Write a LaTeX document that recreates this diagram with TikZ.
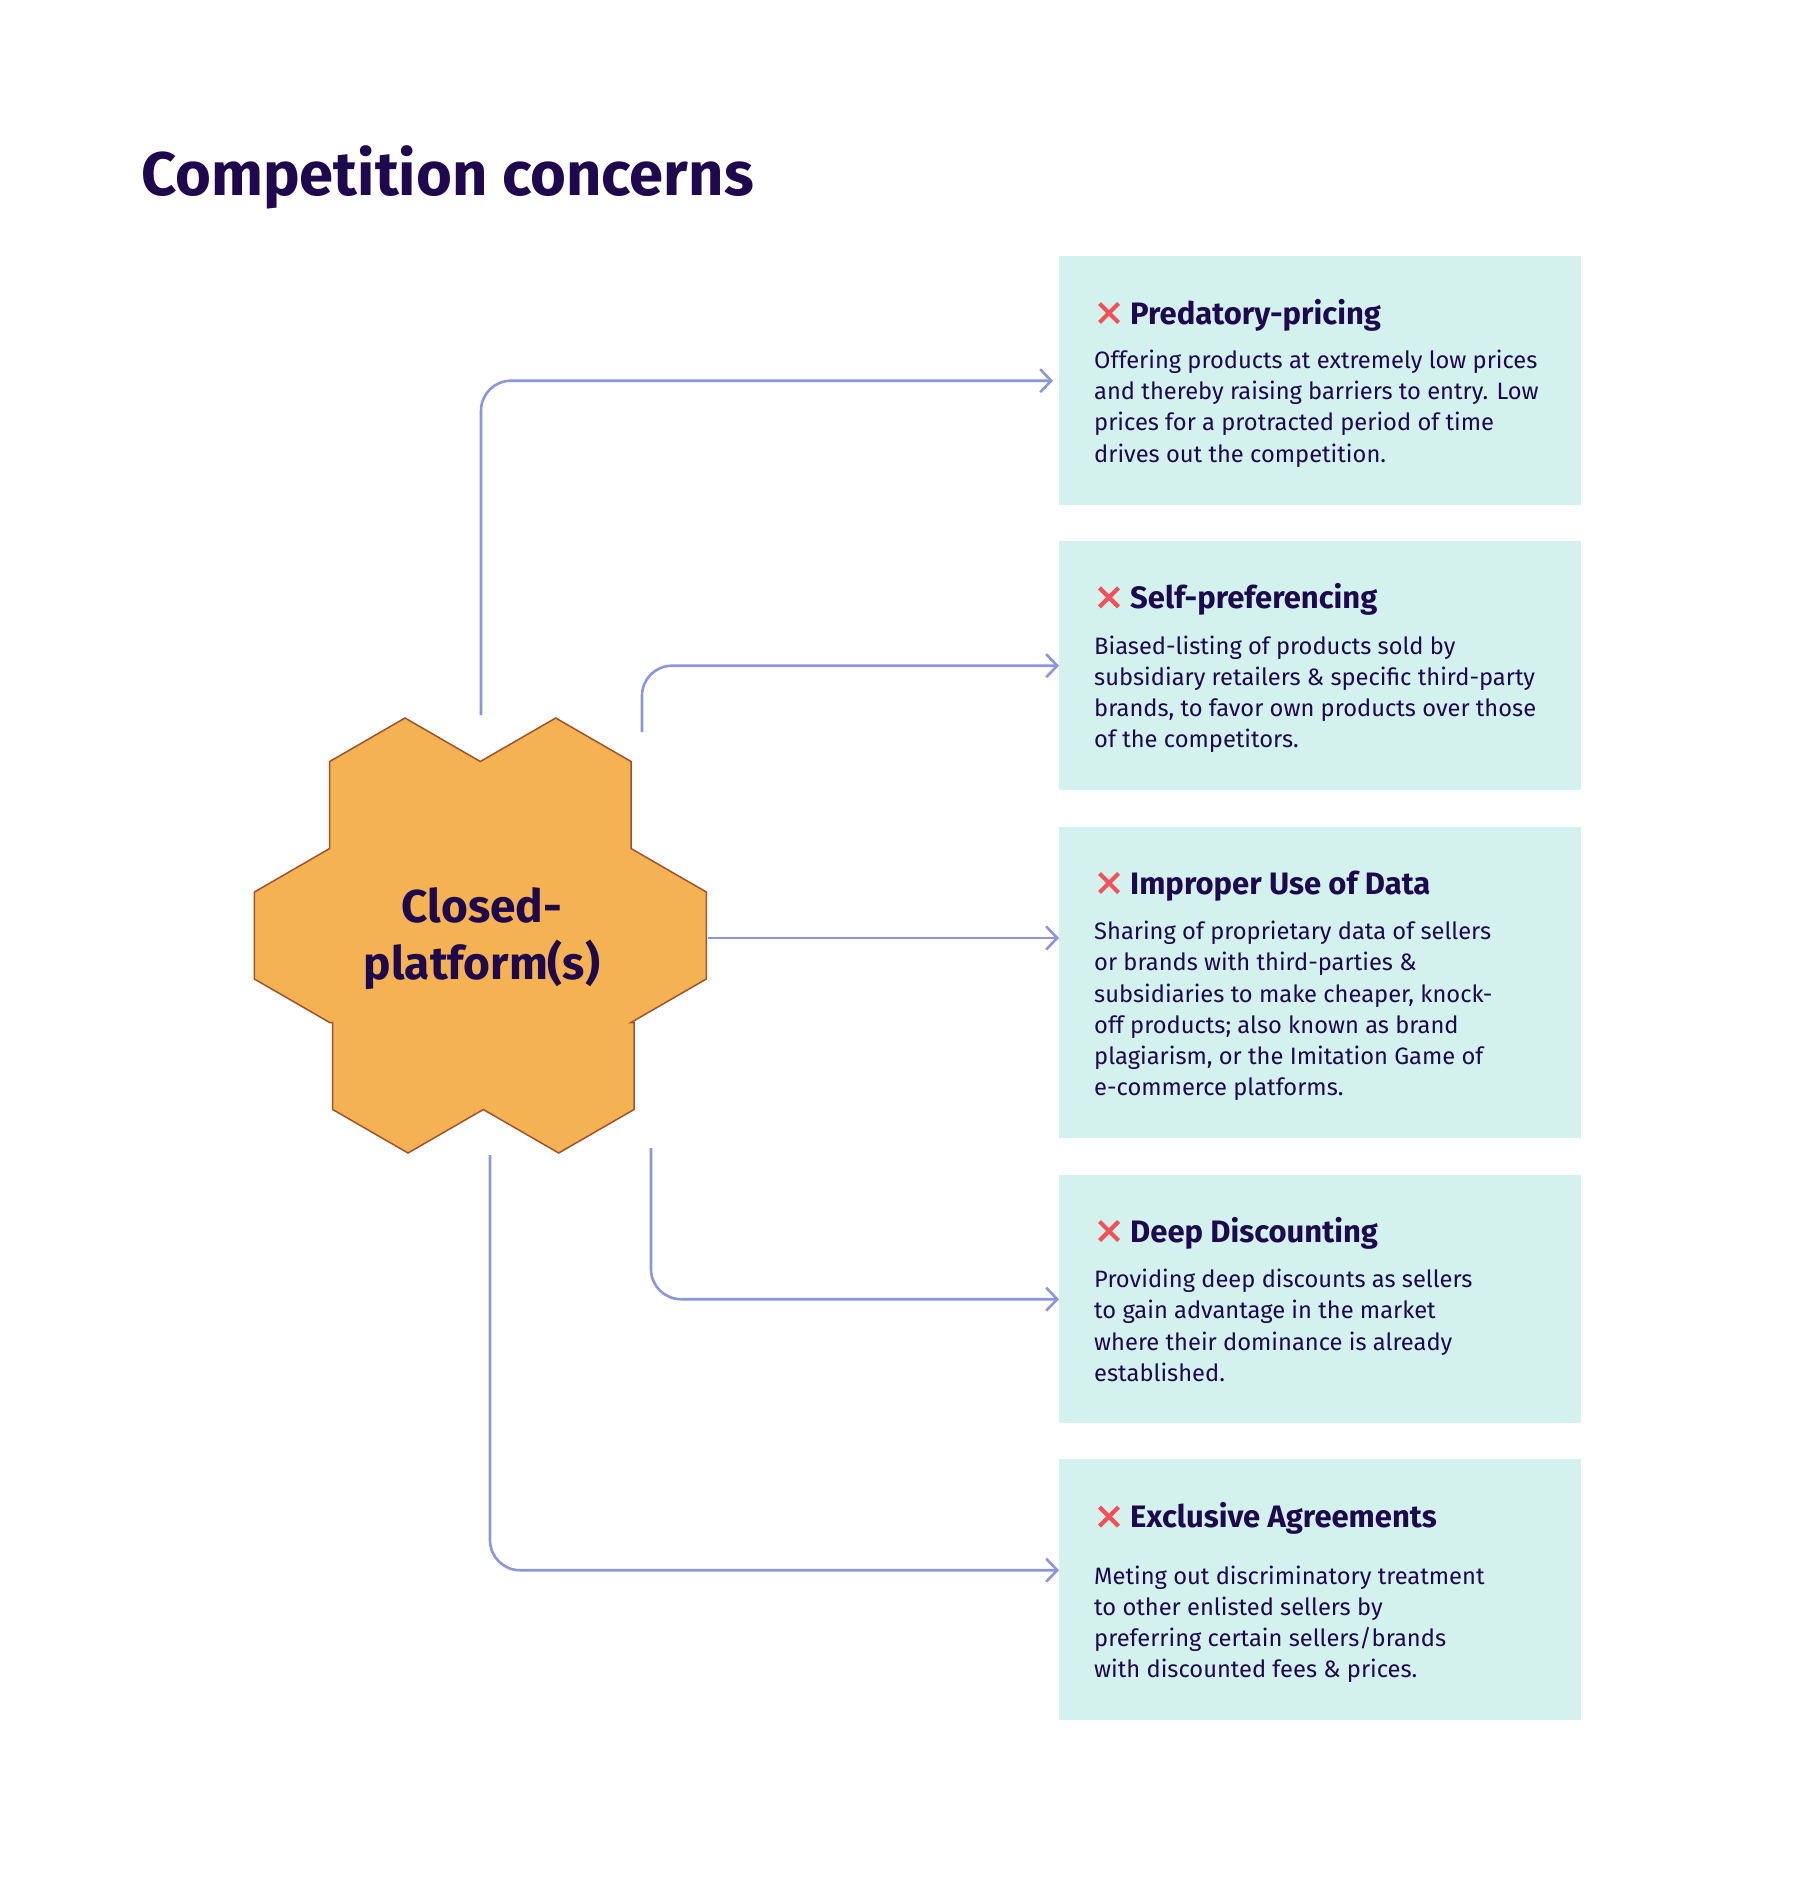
\documentclass[tikz,border=0pt]{standalone}
\usepackage{fontspec}
\setmainfont{Fira Sans}
\usetikzlibrary{arrows.meta}
\definecolor{ink}{RGB}{30,8,78}
\definecolor{mint}{RGB}{211,241,237}
\definecolor{connclr}{RGB}{139,150,219}
\definecolor{crossred}{RGB}{244,80,88}
\definecolor{hexfill}{RGB}{245,178,82}
\definecolor{hexline}{RGB}{160,82,45}
\begin{document}
\begin{tikzpicture}[x=1pt,y=-1pt,
  cardbox/.style={rectangle, fill=mint, draw=none, minimum width=522pt, anchor=north west, inner sep=0pt},
  cardhead/.style={anchor=base west, inner sep=0pt, text=ink, font=\fontsize{31}{36}\selectfont\bfseries},
  cardbody/.style={anchor=base west, inner sep=0pt, text=ink, align=left, font=\fontsize{23.7}{31.2}\selectfont},
  arrowline/.style={draw=connclr, line width=2.6pt, rounded corners=30pt, -{Straight Barb[length=11pt,width=23pt]}},
  xcross/.style={draw=crossred, line width=4.2pt},
]
\useasboundingbox (0,0) rectangle (1800,1881);
\fill[white] (0,0) rectangle (1800,1881);

\node[anchor=base west, inner sep=0pt, text=ink, font=\fontsize{61.5}{70}\selectfont\bfseries] (title) at (141,196) {Competition concerns};

% hexagon cluster
\filldraw[fill=hexfill, draw=hexline, line width=1.5pt, line join=miter]
  (405,718) -- (480.3,761.5) -- (555.7,718) -- (631,761.5) -- (631,848.5)
  -- (706.3,892) -- (706.3,979) -- (631,1022.5) -- (634,1022.5) -- (634,1109.5)
  -- (558.7,1153) -- (483.3,1109.5) -- (408,1153) -- (332.7,1109.5)
  -- (332.7,1022.5) -- (329.7,1022.5) -- (254.4,979) -- (254.4,892)
  -- (329.7,848.5) -- (329.7,761.5) -- cycle;
% base anchor of a multi-line node = baseline of its last line
\node[align=center, text=ink, font=\fontsize{46}{56.6}\selectfont\bfseries, anchor=base, inner sep=0pt] (hub) at (482,979.3) {Closed-\\platform(s)};

% cards
\node[cardbox, minimum height=249pt] (b1) at (1059,256) {};
\node[cardbox, minimum height=249pt] (b2) at (1059,541) {};
\node[cardbox, minimum height=311pt] (b3) at (1059,827) {};
\node[cardbox, minimum height=248pt] (b4) at (1059,1175) {};
\node[cardbox, minimum height=261pt] (b5) at (1059,1459) {};

\foreach \hb in {324,608.4,894,1242,1527.6} {
  \draw[xcross] (1099.5,\hb-20.5) -- (1118.5,\hb-1.5);
  \draw[xcross] (1099.5,\hb-1.5) -- (1118.5,\hb-20.5);
}

\node[cardhead] (h1) at (1130,324) {Predatory-pricing};
\node[cardbody] (t1) at (1094,462) {Offering products at extremely low prices\\and thereby raising barriers to entry. Low\\prices for a protracted period of time\\drives out the competition.};

\node[cardhead] (h2) at (1130,608.4) {Self-preferencing};
\node[cardbody] (t2) at (1094,747.6) {Biased-listing of products sold by\\subsidiary retailers \& specific third-party\\brands, to favor own products over those\\of the competitors.};

\node[cardhead] (h3) at (1130,894) {Improper Use of Data};
\node[cardbody] (t3) at (1094,1095.6) {Sharing of proprietary data of sellers\\or brands with third-parties \&\\subsidiaries to make cheaper, knock-\\off products; also known as brand\\plagiarism, or the Imitation Game of\\e-commerce platforms.};

\node[cardhead] (h4) at (1130,1242) {Deep Discounting};
\node[cardbody] (t4) at (1094,1381.2) {Providing deep discounts as sellers\\to gain advantage in the market\\where their dominance is already\\established.};

\node[cardhead] (h5) at (1130,1527.6) {Exclusive Agreements};
\node[cardbody] (t5) at (1094,1677.6) {Meting out discriminatory treatment\\to other enlisted sellers by\\preferring certain sellers/brands\\with discounted fees \& prices.};

% connectors
\coordinate (c1) at (481,715);
\coordinate (c2) at (642,732);
\coordinate (c3) at (708,938);
\coordinate (c4) at (651,1148);
\coordinate (c5) at (490,1155);

\draw[arrowline] (c1) |- ([xshift=-6pt]b1.west);
\draw[arrowline] (c2) |- (b2.west);
\draw[arrowline] (c3) -- (b3.west |- c3);
\draw[arrowline] (c4) |- (b4.west);
\draw[arrowline] (c5) |- ([yshift=19.5pt]b5.west);
\end{tikzpicture}
\end{document}
